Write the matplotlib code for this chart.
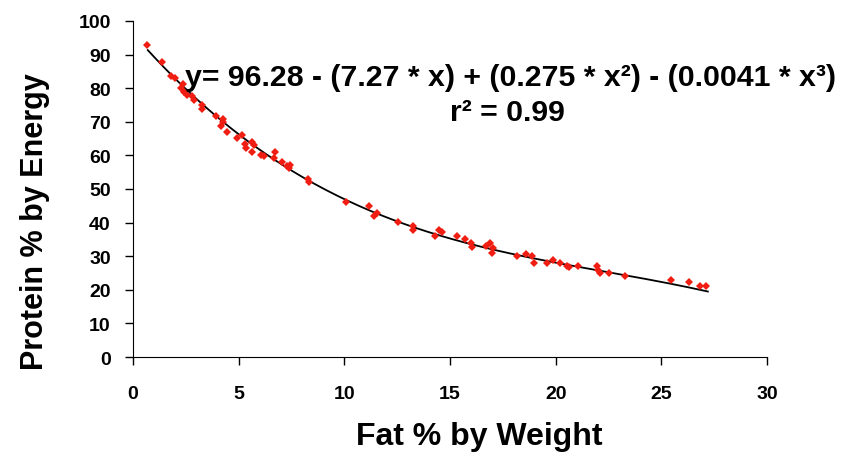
import matplotlib.pyplot as plt
import numpy as np

# scatter points
fat = [0.68, 1.39, 1.78, 1.99, 2.26, 2.38, 2.43, 2.57, 2.81, 2.89, 3.25, 3.25,
       3.93, 4.24, 4.27, 4.15, 4.46, 4.93, 5.14, 5.30, 5.35, 5.62, 5.73, 5.62,
       6.04, 6.20, 6.67, 6.72, 7.04, 7.27, 7.40, 7.45, 8.30, 8.33,
       10.08, 11.18, 11.40, 11.53, 12.52, 13.23, 13.26, 14.29, 14.49, 14.63,
       15.31, 15.71, 15.98, 16.03, 16.69, 16.90, 16.98, 17.05,
       18.15, 18.60, 18.87, 18.98, 19.57, 19.86, 20.21, 20.52, 20.65, 21.04,
       21.97, 22.02, 22.10, 22.54, 23.28, 25.45, 26.33, 26.83, 27.09]
protein = [92.9, 87.7, 83.7, 82.9, 80.2, 81.3, 78.8, 78.0, 77.6, 76.4, 75.0, 73.8,
           71.8, 70.8, 69.8, 68.7, 67.1, 65.1, 66.1, 63.4, 62.1, 63.9, 63.1, 60.9,
           60.1, 59.9, 59.1, 60.9, 58.1, 56.9, 56.1, 57.0, 53.1, 52.0,
           46.0, 45.0, 41.9, 42.9, 40.1, 39.1, 37.9, 35.9, 37.9, 37.1,
           36.1, 35.1, 33.9, 32.8, 33.1, 33.9, 31.1, 32.4,
           30.2, 30.7, 30.2, 28.0, 27.9, 29.0, 28.0, 27.0, 26.7, 27.2,
           27.0, 26.0, 25.0, 25.0, 24.0, 23.0, 22.2, 21.2, 21.2]

# cubic fit given on the chart: y = c0 + c1*x + c2*x^2 + c3*x^3
coef = [96.28, -7.27, 0.275, -0.0041]
fit_range = [0.7, 27.2]

fam = ['Liberation Sans', 'DejaVu Sans']

fig = plt.figure(figsize=(8.45, 4.56), dpi=100)
ax = fig.add_axes([0.1574, 0.2149, 0.7503, 0.7369])

xs = np.linspace(fit_range[0], fit_range[1], 200)
ax.plot(xs, np.polyval(coef[::-1], xs), color='black', lw=1.3, zorder=2)
ax.plot(fat, protein, linestyle='none', marker='D', markersize=4,
        color='#f01e12', markeredgewidth=0, zorder=3)

ax.set_xlim(0, 30)
ax.set_ylim(0, 100)
ax.set_xticks(range(0, 31, 5))
ax.set_yticks(range(0, 101, 10))
for s in ['top', 'right']:
    ax.spines[s].set_visible(False)
ax.tick_params(direction='out', length=6, width=1.0)
ax.tick_params(axis='y', pad=10)
ax.tick_params(axis='x', pad=14)
for lab in ax.get_xticklabels() + ax.get_yticklabels():
    lab.set_fontfamily(fam)
    lab.set_fontweight('bold')
    lab.set_fontsize(14)

ax.set_xlabel('Fat % by Weight', family=fam, fontsize=23, fontweight='bold')
ax.set_ylabel('Protein % by Energy', family=fam, fontsize=22, fontweight='bold')
ax.xaxis.set_label_coords(0.546, -0.19)
ax.yaxis.set_label_coords(-0.131, 0.405)

fig.text(0.219, 0.829, 'y= 96.28 - (7.27 * x) + (0.275 * x²) - (0.0041 * x³)',
         family=fam, fontsize=21.8, fontweight='bold', va='center', ha='left')
fig.text(0.601, 0.752, 'r² = 0.99', family=fam, fontsize=21.8,
         fontweight='bold', va='center', ha='center')

fig.savefig('out.png', dpi=100)
